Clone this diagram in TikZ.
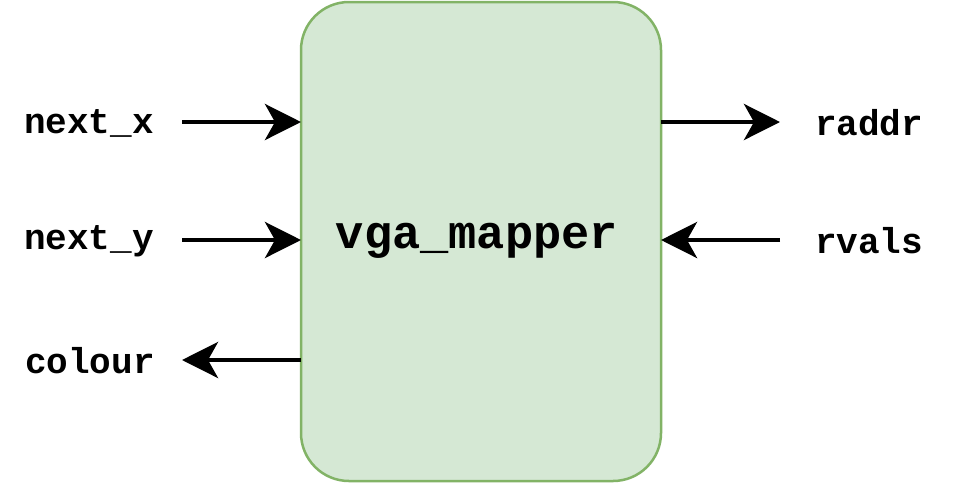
\documentclass[tikz,border=0pt]{standalone}
\usepackage{fontspec}
\setmonofont{Liberation Mono}
\usetikzlibrary{arrows.meta}
\definecolor{boxfill}{HTML}{D5E8D4}
\definecolor{boxdraw}{HTML}{82B366}
\tikzset{
  mainbox/.style={draw=boxdraw, fill=boxfill, line width=2.5pt, rounded corners=48pt},
  sig/.style={font=\ttfamily\bfseries\fontsize{36}{36}\selectfont, inner sep=0pt, anchor=center},
  wire/.style={line width=4.5pt, -{Stealth[length=36pt,width=36pt,inset=10pt]}},
}
\begin{document}
\begin{tikzpicture}[x=1pt,y=-1pt]
\useasboundingbox (0,0) rectangle (960,483);
\draw[mainbox] (301,2) rectangle (661,481);
\node[font=\ttfamily\bfseries\fontsize{47}{47}\selectfont, inner sep=0pt] (core) at (477,241) {vga\_mapper};
\node[sig] (nx) at (89,123) {next\_x};
\node[sig] (ny) at (89,241) {next\_y};
\node[sig] (col) at (90,361) {colour};
\node[sig] (ra) at (869,123) {raddr};
\node[sig] (rv) at (869,241) {rvals};
\coordinate (nxa) at (182,122); \coordinate (nxb) at (301,122);
\coordinate (nya) at (182,240); \coordinate (nyb) at (301,240);
\coordinate (cola) at (301,360); \coordinate (colb) at (182,360);
\coordinate (raa) at (661,122); \coordinate (rab) at (780,122);
\coordinate (rva) at (780,240); \coordinate (rvb) at (661,240);
\draw[wire] (nxa) -- (nxb);
\draw[wire] (nya) -- (nyb);
\draw[wire] (cola) -- (colb);
\draw[wire] (raa) -- (rab);
\draw[wire] (rva) -- (rvb);
\end{tikzpicture}
\end{document}
